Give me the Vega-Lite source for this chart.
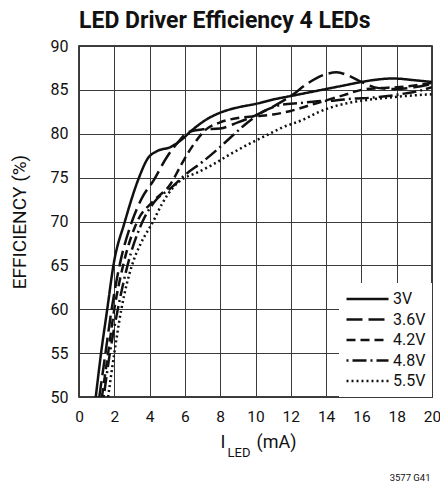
{
  "$schema": "https://vega.github.io/schema/vega-lite/v6.json",
  "width": 353,
  "height": 351,
  "autosize": {"type": "none"},
  "padding": {"left": 79, "top": 46, "right": 8, "bottom": 88},
  "background": "white",
  "config": {
    "font": "Roboto, Liberation Sans, sans-serif",
    "view": {"stroke": "#000", "strokeWidth": 1.5}
  },
  "title": {
    "text": "LED Driver Efficiency 4 LEDs",
    "anchor": "start",
    "frame": "group",
    "font": "Roboto, Liberation Sans, sans-serif",
    "fontSize": 23,
    "fontWeight": "bold",
    "color": "#111",
    "baseline": "alphabetic",
    "offset": -13
  },
  "data": {
    "values": [
      {"s":"3V","i":0.95,"e":50},{"s":"3V","i":1.25,"e":55},{"s":"3V","i":1.6,"e":60},{"s":"3V","i":1.95,"e":65},{"s":"3V","i":2.6,"e":70},{"s":"3V","i":3.4,"e":75},{"s":"3V","i":3.9,"e":77.2},{"s":"3V","i":4.4,"e":78.0},{"s":"3V","i":5.2,"e":78.5},{"s":"3V","i":5.8,"e":79.3},{"s":"3V","i":6.4,"e":80.4},{"s":"3V","i":7.2,"e":81.6},{"s":"3V","i":8,"e":82.4},{"s":"3V","i":9,"e":83.0},{"s":"3V","i":10,"e":83.4},{"s":"3V","i":11,"e":83.9},{"s":"3V","i":12,"e":84.3},{"s":"3V","i":13,"e":84.7},{"s":"3V","i":14,"e":85.1},{"s":"3V","i":15,"e":85.5},{"s":"3V","i":16,"e":85.9},{"s":"3V","i":17,"e":86.2},{"s":"3V","i":17.8,"e":86.3},{"s":"3V","i":19,"e":86.1},{"s":"3V","i":20,"e":85.9},
      {"s":"3.6V","i":1.15,"e":50},{"s":"3.6V","i":1.5,"e":55},{"s":"3.6V","i":1.85,"e":60},{"s":"3.6V","i":2.3,"e":65},{"s":"3.6V","i":3.0,"e":70},{"s":"3.6V","i":3.6,"e":72.8},{"s":"3.6V","i":4.2,"e":74.6},{"s":"3.6V","i":5.0,"e":77.4},{"s":"3.6V","i":5.6,"e":79.0},{"s":"3.6V","i":6.2,"e":80.2},{"s":"3.6V","i":7.0,"e":80.5},{"s":"3.6V","i":8.0,"e":80.6},{"s":"3.6V","i":9,"e":81.3},{"s":"3.6V","i":10,"e":82.1},{"s":"3.6V","i":11,"e":83.1},{"s":"3.6V","i":12,"e":84.3},{"s":"3.6V","i":13,"e":85.8},{"s":"3.6V","i":14,"e":86.8},{"s":"3.6V","i":14.6,"e":87.0},{"s":"3.6V","i":15.3,"e":86.6},{"s":"3.6V","i":16,"e":85.9},{"s":"3.6V","i":17,"e":85.2},{"s":"3.6V","i":18,"e":85.1},{"s":"3.6V","i":19,"e":85.3},{"s":"3.6V","i":20,"e":85.7},
      {"s":"4.2V","i":1.3,"e":50},{"s":"4.2V","i":1.65,"e":55},{"s":"4.2V","i":2.0,"e":60},{"s":"4.2V","i":2.5,"e":65},{"s":"4.2V","i":3.3,"e":70},{"s":"4.2V","i":4.2,"e":72.3},{"s":"4.2V","i":5.2,"e":74.3},{"s":"4.2V","i":5.8,"e":76.5},{"s":"4.2V","i":6.5,"e":78.8},{"s":"4.2V","i":7.2,"e":80.5},{"s":"4.2V","i":8,"e":81.3},{"s":"4.2V","i":9,"e":81.8},{"s":"4.2V","i":10,"e":82.0},{"s":"4.2V","i":11,"e":82.2},{"s":"4.2V","i":12,"e":82.6},{"s":"4.2V","i":13,"e":83.2},{"s":"4.2V","i":14,"e":83.8},{"s":"4.2V","i":15,"e":84.4},{"s":"4.2V","i":16,"e":85.0},{"s":"4.2V","i":17,"e":85.2},{"s":"4.2V","i":18,"e":85.3},{"s":"4.2V","i":19,"e":85.5},{"s":"4.2V","i":20,"e":85.8},
      {"s":"4.8V","i":1.4,"e":50},{"s":"4.8V","i":1.75,"e":55},{"s":"4.8V","i":2.2,"e":60},{"s":"4.8V","i":2.75,"e":65},{"s":"4.8V","i":3.6,"e":70},{"s":"4.8V","i":4.3,"e":72.3},{"s":"4.8V","i":5.2,"e":73.8},{"s":"4.8V","i":6.0,"e":75.3},{"s":"4.8V","i":7.0,"e":76.8},{"s":"4.8V","i":8.0,"e":78.5},{"s":"4.8V","i":8.6,"e":79.6},{"s":"4.8V","i":9.5,"e":81.2},{"s":"4.8V","i":10.5,"e":82.6},{"s":"4.8V","i":11.5,"e":83.3},{"s":"4.8V","i":12.5,"e":83.5},{"s":"4.8V","i":13.5,"e":83.7},{"s":"4.8V","i":14.5,"e":83.8},{"s":"4.8V","i":15.5,"e":84.0},{"s":"4.8V","i":16.5,"e":84.1},{"s":"4.8V","i":17.5,"e":84.3},{"s":"4.8V","i":18.5,"e":84.6},{"s":"4.8V","i":19.3,"e":84.9},{"s":"4.8V","i":20,"e":85.3},
      {"s":"5.5V","i":1.65,"e":50},{"s":"5.5V","i":2.0,"e":55},{"s":"5.5V","i":2.4,"e":60},{"s":"5.5V","i":3.0,"e":65},{"s":"5.5V","i":3.5,"e":67.5},{"s":"5.5V","i":4.2,"e":70},{"s":"5.5V","i":4.7,"e":72},{"s":"5.5V","i":5.3,"e":73.8},{"s":"5.5V","i":6.0,"e":75.0},{"s":"5.5V","i":6.5,"e":75.4},{"s":"5.5V","i":7.5,"e":76.4},{"s":"5.5V","i":8.6,"e":77.7},{"s":"5.5V","i":9.5,"e":78.7},{"s":"5.5V","i":10.8,"e":80.0},{"s":"5.5V","i":11.5,"e":80.7},{"s":"5.5V","i":12.7,"e":81.6},{"s":"5.5V","i":13.5,"e":82.4},{"s":"5.5V","i":14.6,"e":83.2},{"s":"5.5V","i":15.5,"e":83.6},{"s":"5.5V","i":16.5,"e":83.9},{"s":"5.5V","i":17.5,"e":84.1},{"s":"5.5V","i":18.5,"e":84.3},{"s":"5.5V","i":20,"e":84.5}
    ]
  },
  "resolve": {"axis": {"x": "independent", "y": "independent"}},
  "layer": [
    {
      "mark": {"type": "line", "interpolate": "monotone", "stroke": "#111", "strokeWidth": 2.5, "clip": true},
      "encoding": {
        "x": {
          "field": "i", "type": "quantitative",
          "scale": {"domain": [0, 20], "nice": false},
          "axis": {
            "orient": "bottom",
            "values": [0, 2, 4, 6, 8, 10, 12, 14, 16, 18, 20],
            "domain": false, "ticks": false, "tickSize": 0,
            "grid": true, "gridColor": "#3a3a3a", "gridWidth": 1, "gridOpacity": 1,
            "labelFontSize": 15.5, "labelColor": "#111", "labelPadding": 12,
            "labelFlush": false,
            "title": "I",
            "titleFontSize": 18, "titleFontWeight": "normal", "titleColor": "#111",
            "titleAlign": "left", "titleBaseline": "alphabetic",
            "titleX": 141, "titleY": 50
          }
        },
        "y": {
          "field": "e", "type": "quantitative",
          "scale": {"domain": [50, 90], "nice": false, "zero": false},
          "axis": {
            "orient": "left",
            "values": [50, 55, 60, 65, 70, 75, 80, 85, 90],
            "domain": false, "ticks": false, "tickSize": 0,
            "grid": true, "gridColor": "#3a3a3a", "gridWidth": 1, "gridOpacity": 1,
            "labelFontSize": 16, "labelColor": "#111", "labelPadding": 11,
            "labelFlush": false,
            "title": "EFFICIENCY (%)",
            "titleFontSize": 19, "titleFontWeight": "normal", "titleColor": "#111",
            "titlePadding": 21
          }
        },
        "strokeDash": {
          "field": "s", "type": "nominal",
          "scale": {
            "domain": ["3V", "3.6V", "4.2V", "4.8V", "5.5V"],
            "range": [[1, 0], [16, 6], [9, 5], [2, 4, 14, 4], [2, 3]]
          },
          "legend": {
            "title": null,
            "orient": "bottom-right",
            "offset": 0,
            "padding": 6,
            "fillColor": "white",
            "strokeColor": null,
            "symbolType": "stroke",
            "symbolSize": 1764,
            "symbolStrokeWidth": 2.5,
            "symbolStrokeColor": "#111",
            "labelFontSize": 16,
            "labelColor": "#111",
            "labelOffset": 3,
            "clipHeight": 20,
            "rowPadding": 0.5
          }
        }
      }
    },
    {
      "mark": {"type": "point", "opacity": 0, "size": 0},
      "encoding": {
        "x": {
          "field": "i", "type": "quantitative",
          "axis": {
            "orient": "bottom", "labels": false, "ticks": false, "domain": false, "grid": false,
            "title": "LED",
            "titleFontSize": 13, "titleFontWeight": "normal", "titleColor": "#111",
            "titleAlign": "left", "titleBaseline": "alphabetic",
            "titleX": 148, "titleY": 59
          }
        },
        "y": {
          "field": "e", "type": "quantitative",
          "axis": {
            "orient": "right", "labels": false, "ticks": false, "domain": false, "grid": false,
            "title": "3577 G41",
            "titleAngle": 0,
            "titleFontSize": 9.5, "titleFontWeight": "normal", "titleColor": "#111",
            "titleAlign": "right", "titleBaseline": "alphabetic",
            "titleX": -2, "titleY": 434
          }
        }
      }
    },
    {
      "mark": {"type": "point", "opacity": 0, "size": 0},
      "encoding": {
        "x": {
          "field": "i", "type": "quantitative",
          "axis": {
            "orient": "bottom", "labels": false, "ticks": false, "domain": false, "grid": false,
            "title": "(mA)",
            "titleFontSize": 18, "titleFontWeight": "normal", "titleColor": "#111",
            "titleAlign": "left", "titleBaseline": "alphabetic",
            "titleX": 177, "titleY": 50
          }
        },
        "y": {"field": "e", "type": "quantitative", "axis": null}
      }
    }
  ]
}
